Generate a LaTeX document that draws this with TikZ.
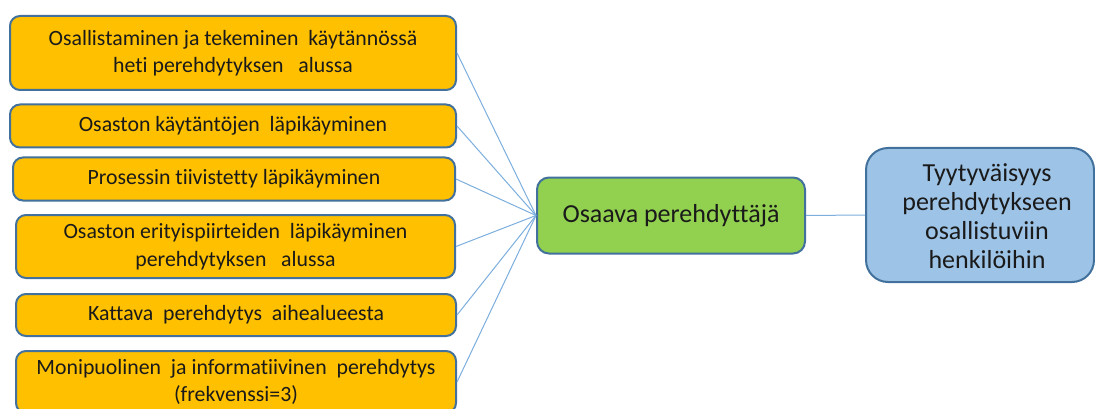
\documentclass[tikz,border=0pt]{standalone}
\usepackage{fontspec}
\setmainfont{Carlito}[Ligatures=NoCommon]
\definecolor{orangefill}{HTML}{FFC000}
\definecolor{boxborder}{HTML}{41719C}
\definecolor{greenfill}{HTML}{92D050}
\definecolor{bluefill}{HTML}{9DC3E6}
\definecolor{linkcol}{HTML}{5B9BD5}
\definecolor{textcol}{HTML}{1A1A1A}
\begin{document}
\begin{tikzpicture}[x=1pt,y=-1pt,
  box/.style={draw=boxborder, line width=2pt, rounded corners=10pt, inner sep=0pt, align=center, text=textcol},
  obox/.style={box, fill=orangefill, font=\fontsize{21.8}{27.5}\selectfont},
  gbox/.style={box, fill=greenfill, rounded corners=12pt, font=\fontsize{26}{30}\selectfont},
  bbox/.style={box, fill=bluefill, rounded corners=22pt},
  link/.style={draw=linkcol!80, line width=1pt}]
\clip (0,0) rectangle (1095,409);
\fill[white] (0,0) rectangle (1095,409);

\node[obox, minimum width=446pt, minimum height=74pt] (a1) at (233,53)
  {Osallistaminen ja tekeminen~ käytännössä\\heti perehdytyksen~~ alussa};
\node[obox, minimum width=446pt, minimum height=43pt] (a2) at (233,126)
  {Osaston käytäntöjen~ läpikäyminen};
\node[obox, minimum width=442pt, minimum height=43pt] (a3) at (234,179)
  {Prosessin tiivistetty läpikäyminen};
\node[obox, minimum width=439pt, minimum height=63pt] (a4) at (235.5,246.5)
  {Osaston erityispiirteiden~ läpikäyminen\\perehdytyksen~~ alussa};
\node[obox, minimum width=440pt, minimum height=42pt] (a5) at (236,315)
  {Kattava~ perehdytys~ aihealueesta};
\node[obox, minimum width=440pt, minimum height=62pt] (a6) at (236,382)
  {Monipuolinen~ ja informatiivinen~ perehdytys\\(frekvenssi=3)};

\node[gbox, minimum width=268pt, minimum height=76pt] (g) at (671,215.5)
  {Osaava perehdyttäjä};
\node[bbox, minimum width=228pt, minimum height=134pt] (b) at (980,215) {};
\node[align=center, text=textcol, inner sep=0pt, font=\fontsize{26}{29}\selectfont] (bt) at (987,216)
  {Tyytyväisyys\\perehdytykseen\\osallistuviin\\henkilöihin};

\foreach \n in {a1,a2,a3,a4,a5,a6}{
  \draw[link] (\n.east) -- (g.west);
}
\draw[link] (g.east) -- (b.west);
\end{tikzpicture}
\end{document}
